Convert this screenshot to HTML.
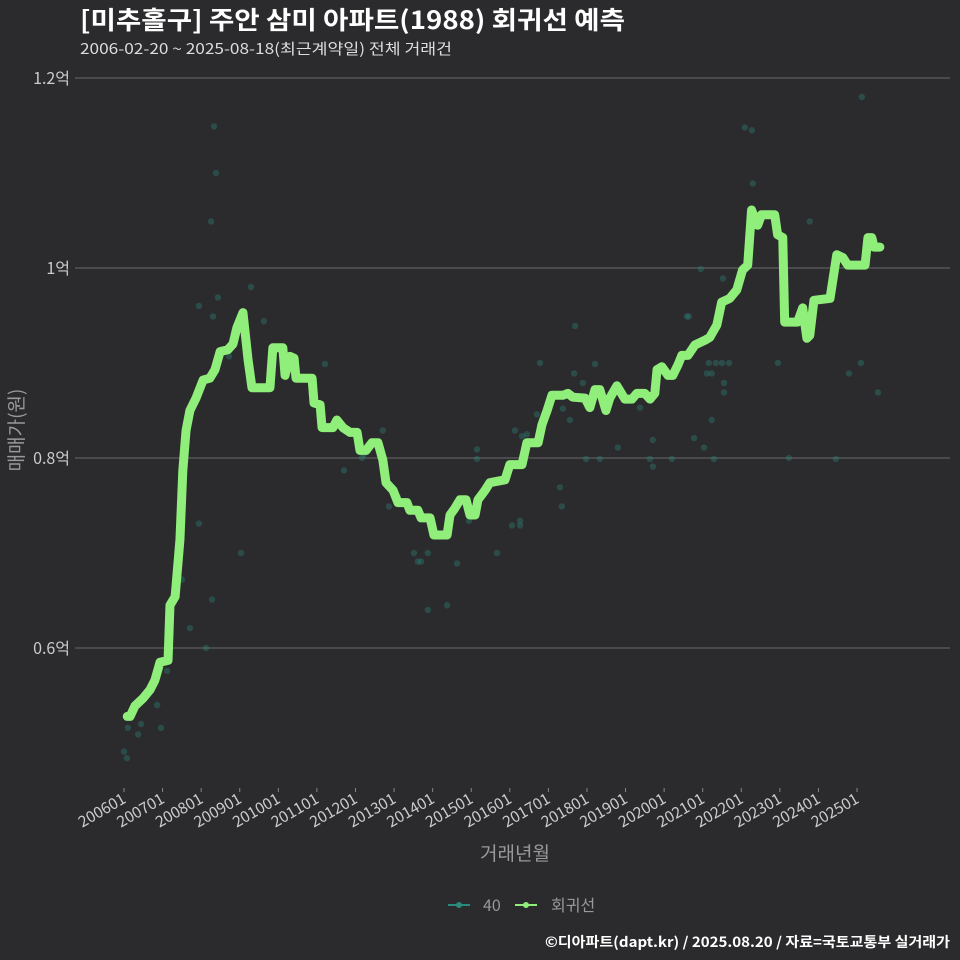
<!DOCTYPE html>
<html><head><meta charset="utf-8">
<style>
html,body{margin:0;padding:0;background:#2b2b2d;}
svg{display:block;font-family:"Noto Sans CJK KR","Liberation Sans",sans-serif;}
</style></head>
<body>
<svg id="chart" width="960" height="960" viewBox="0 0 960 960" xmlns="http://www.w3.org/2000/svg">
<rect width="960" height="960" fill="#2b2b2d"/>
<text x="80" y="29" fill="#ffffff" font-size="25" font-weight="bold" textLength="545" lengthAdjust="spacingAndGlyphs">[미추홀구] 주안 삼미 아파트(1988) 회귀선 예측</text>
<text x="80" y="54" fill="#dddddd" font-size="15" textLength="372" lengthAdjust="spacingAndGlyphs">2006-02-20 ~ 2025-08-18(최근계약일) 전체 거래건</text>
<g id="grid"></g>
<g id="dots"></g>
<g id="line"></g>
<g id="xaxis"></g>
<text x="515" y="860" fill="#999999" font-size="19" text-anchor="middle">거래년월</text>
<text transform="translate(23,430) rotate(-90)" fill="#999999" font-size="19" text-anchor="middle">매매가(원)</text>
<g>
<g>
<line x1="448" y1="905" x2="470" y2="905" stroke="#2a8a7e" stroke-width="2"/>
<circle cx="459" cy="905" r="3" fill="#2a8a7e"/>
<text x="483" y="911" fill="#999999" font-size="16">40</text></g>
<g>
<line x1="515" y1="905" x2="537" y2="905" stroke="#90ee7a" stroke-width="2"/>
<circle cx="526" cy="905" r="3" fill="#90ee7a"/>
<text x="551" y="911" fill="#999999" font-size="16">회귀선</text></g>
</g>
<text x="950" y="947" fill="#ffffff" font-size="14" font-weight="bold" text-anchor="end" textLength="405" lengthAdjust="spacingAndGlyphs">©디아파트(dapt.kr) / 2025.08.20 / 자료=국토교통부 실거래가</text>
</svg>
<script>
// months since 2006-01, values in 억
const lineMonths=[1,1.9,3.4,5.9,8.1,9.6,11.2,13.7,14.3,15.9,17.4,18.3,19.3,20.5,22.4,24.6,26.7,28.3,29.9,32.3,33.9,35.1,37,38.6,39.8,45.4,46.3,49.4,50.1,51.6,52.9,53.5,58.5,59.1,61,61.6,65,66.2,68.1,70.3,72.5,73.4,75.3,77.1,79,80.5,81.5,83.7,85.2,88,88.9,91.4,92.4,95.2,96.4,100.5,101.4,102.9,104.5,106.4,107.6,109.2,110.1,112.3,113.8,118.5,120,123.8,125.3,128.8,130,131.6,133.1,136.5,138.1,139.6,143.4,144.9,146.5,148,149.9,151.1,153.3,155.8,158,159.5,162,163.6,165.1,165.8,167.3,169.2,170.7,172.3,173.5,175.4,177.6,180.7,182.2,184.4,185.9,188.4,190.6,192.4,194,195.2,197.1,198.3,202.4,203.3,204.9,205.5,209.5,211.1,212.4,213.3,214.6,219.6,221.7,223.6,225.1,230.5,231.4,232.6,233.3,235.1];
const lineValues=[0.528,0.528,0.539,0.547,0.556,0.566,0.585,0.587,0.645,0.654,0.714,0.787,0.829,0.85,0.863,0.882,0.884,0.893,0.912,0.914,0.92,0.937,0.953,0.903,0.874,0.874,0.916,0.916,0.887,0.907,0.905,0.884,0.884,0.858,0.856,0.832,0.832,0.84,0.832,0.827,0.827,0.808,0.808,0.816,0.816,0.798,0.774,0.766,0.753,0.753,0.745,0.745,0.737,0.737,0.719,0.719,0.74,0.747,0.756,0.756,0.74,0.74,0.756,0.766,0.774,0.777,0.793,0.793,0.816,0.816,0.835,0.85,0.866,0.866,0.868,0.864,0.863,0.853,0.872,0.872,0.85,0.863,0.876,0.862,0.862,0.868,0.868,0.862,0.868,0.893,0.896,0.887,0.887,0.898,0.908,0.908,0.919,0.924,0.927,0.94,0.964,0.968,0.977,0.998,1.003,1.061,1.045,1.056,1.056,1.035,1.032,0.943,0.943,0.958,0.926,0.929,0.966,0.968,1.014,1.011,1.003,1.003,1.032,1.032,1.022,1.022];
const dotMonths=[0,0.9,1.2,4.4,5.3,10.3,11.5,13.4,18,20.5,23.3,23.3,25.5,27.1,27.4,27.7,28,28.6,29.2,32.7,36.4,39.5,43.5,62.5,68.4,74,74.6,80.5,82.4,85.2,90.2,91.4,92.4,94.5,94.5,100.5,103.6,107.3,109.8,109.8,116,120.7,121.6,123.2,123.2,123.8,125.3,128.4,129.4,135.6,136.2,136.5,138.7,140.3,140,142.7,143.7,146.5,148,153.6,160.5,163.6,164.5,164.5,170.4,175.1,175.7,177.3,179.4,180.4,181.3,181.9,182.8,182.8,183.5,184.1,186,186.6,186.6,186.3,188.2,191,193.1,195.3,195.6,195.6,203.4,206.8,213.3,221.4,225.5,229.2,229.5,234.5];
const dotValues=[0.491,0.484,0.516,0.509,0.52,0.54,0.516,0.576,0.672,0.621,0.731,0.96,0.6,1.049,0.651,0.949,1.149,1.1,0.969,0.907,0.7,0.98,0.944,0.899,0.787,0.8,0.804,0.829,0.749,0.759,0.7,0.691,0.691,0.64,0.7,0.645,0.689,0.734,0.809,0.799,0.7,0.729,0.829,0.729,0.734,0.823,0.825,0.846,0.9,0.769,0.749,0.852,0.84,0.939,0.889,0.879,0.799,0.899,0.799,0.811,0.853,0.799,0.791,0.819,0.799,0.949,0.949,0.821,0.999,0.811,0.889,0.9,0.84,0.889,0.799,0.9,0.9,0.879,0.869,0.989,0.9,0.98,1.148,1.145,1.089,1.058,0.9,0.8,1.049,0.799,0.889,0.9,1.18,0.869];
const yTicks=[0.6,0.8,1.0,1.2];
const yTickLabels=["0.6억","0.8억","1억","1.2억"];
const xTickLabels=["200601","200701","200801","200901","201001","201101","201201","201301","201401","201501","201601","201701","201801","201901","202001","202101","202201","202301","202401","202501"];

const NS="http://www.w3.org/2000/svg";
const X=m=>124+m*(38.58/12);
const Y=v=>268-(v-1)*950;
function mk(tag,attrs,parent){const e=document.createElementNS(NS,tag);for(const k in attrs)e.setAttribute(k,attrs[k]);parent.appendChild(e);return e;}
const grid=document.getElementById('grid');
yTicks.forEach((t,i)=>{
  const l=mk('line',{x1:75,x2:950,y1:Y(t),y2:Y(t),stroke:'#6a6a6a','stroke-width':1},grid);
  
  
  const tx=mk('text',{x:70,y:Y(t)+6,fill:'#cccccc','font-size':16,'text-anchor':'end'},grid);
  tx.textContent=yTickLabels[i];
  
  
});
const xa=document.getElementById('xaxis');
xTickLabels.forEach((lab,i)=>{
  const x=X(i*12);
  const tk=mk('line',{x1:x,x2:x,y1:788,y2:792,stroke:'#888','stroke-width':1},xa);
  
  
  const tx=mk('text',{transform:`translate(${x+3},${802}) rotate(-30)`,fill:'#cccccc','font-size':15.5,'text-anchor':'end'},xa);
  tx.textContent=lab;
  
  
});
const dots=document.getElementById('dots');
dotMonths.forEach((m,i)=>{
  const c=mk('circle',{cx:X(m),cy:Y(dotValues[i]),r:3.2,fill:'#2a8a7e','fill-opacity':0.35},dots);
  
  
});
const lg=document.getElementById('line');
const p=mk('polyline',{points:lineMonths.map((m,i)=>X(m)+','+Y(lineValues[i])).join(' '),fill:'none',stroke:'#90ee7a','stroke-width':9,'stroke-linejoin':'round','stroke-linecap':'round'},lg);


</script>
</body></html>
